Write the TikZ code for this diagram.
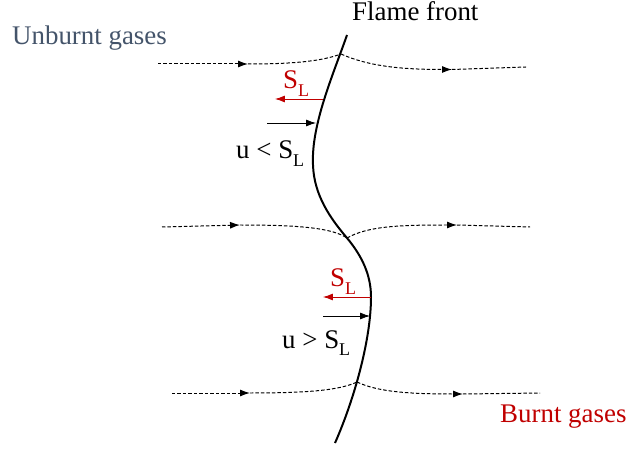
\documentclass[tikz,border=0pt]{standalone}
\usepackage{fontspec}
\setmainfont{Liberation Serif}
\usetikzlibrary{arrows.meta}
\definecolor{slate}{HTML}{44546A}
\definecolor{fred}{HTML}{C00000}
\tikzset{
  stream/.style={line width=1pt, dash pattern=on 3.5pt off 2pt},
  streamarr/.style={stream, -{Latex[length=10pt,width=7pt]}},
  vel/.style={line width=0.8pt, -{Latex[length=10pt,width=7pt]}},
  lbl/.style={font=\fontsize{27}{31}\selectfont, inner sep=0pt, anchor=base west},
  sl/.style={lbl, text=fred}
}
\newcommand{\subL}{\raisebox{-0.28em}{\fontsize{18}{20}\selectfont L}}
\begin{document}
\begin{tikzpicture}[x=1bp,y=-1bp]
\useasboundingbox (0,0) rectangle (629,450);
% flame front
\coordinate (f0) at (347,35);
\coordinate (f1) at (313,165);
\coordinate (f2) at (347,238);
\coordinate (f3) at (371,297);
\coordinate (f4) at (335,443);
\draw[line width=2pt] (f0) .. controls (333,75) and (311,125) .. (f1)
  .. controls (314,195) and (330,218) .. (f2)
  .. controls (362,256) and (371,275) .. (f3)
  .. controls (371,340) and (354,400) .. (f4);
% named coordinates
\coordinate (t0) at (158,64);  \coordinate (ta) at (248,64);  \coordinate (tc) at (341,54);  \coordinate (tb) at (452,69.5); \coordinate (t1) at (526,67);
\coordinate (m0) at (162,227); \coordinate (ma) at (240,225); \coordinate (mc) at (347,238); \coordinate (mb) at (457,225);   \coordinate (m1) at (530,227);
\coordinate (b0) at (172,393); \coordinate (ba) at (250,393); \coordinate (bc) at (357,382); \coordinate (bb) at (463,394);   \coordinate (b1) at (540,393);
% top streamline
\draw[streamarr] (t0) -- (ta);
\draw[stream] (ta) .. controls (295,64) and (322,61) .. (tc);
\draw[streamarr] (tc) .. controls (368,66) and (400,69.5) .. (tb);
\draw[stream] (tb) -- (t1);
% middle streamline
\draw[streamarr] (m0) -- (ma);
\draw[stream] (ma) .. controls (300,225) and (332,228) .. (mc);
\draw[streamarr] (mc) .. controls (368,226) and (400,225) .. (mb);
\draw[stream] (mb) -- (m1);
% bottom streamline
\draw[streamarr] (b0) -- (ba);
\draw[stream] (ba) .. controls (310,393) and (340,390) .. (bc);
\draw[streamarr] (bc) .. controls (378,392) and (410,394) .. (bb);
\draw[stream] (bb) -- (b1);
% velocity arrows
\coordinate (r1s) at (323,99);  \coordinate (r1e) at (275,99);
\coordinate (k1s) at (267,123); \coordinate (k1e) at (316,123);
\coordinate (r2s) at (371,297); \coordinate (r2e) at (323,297);
\coordinate (k2s) at (323,316); \coordinate (k2e) at (370,316);
\draw[vel, fred] (r1s) -- (r1e);
\draw[vel] (k1s) -- (k1e);
\draw[vel, fred] (r2s) -- (r2e);
\draw[vel] (k2s) -- (k2e);
% labels
\node[sl] (sl1) at (283,89) {S\subL};
\node[sl] (sl2) at (330,287) {S\subL};
\node[lbl] (ult) at (236,159) {u < S\subL};
\node[lbl] (ugt) at (282,348) {u > S\subL};
\node[lbl] (ff) at (352,21) {Flame front};
\node[lbl, text=slate] (ug) at (12,45) {Unburnt gases};
\node[lbl, text=fred] (bg) at (500,422) {Burnt gases};
\end{tikzpicture}
\end{document}
